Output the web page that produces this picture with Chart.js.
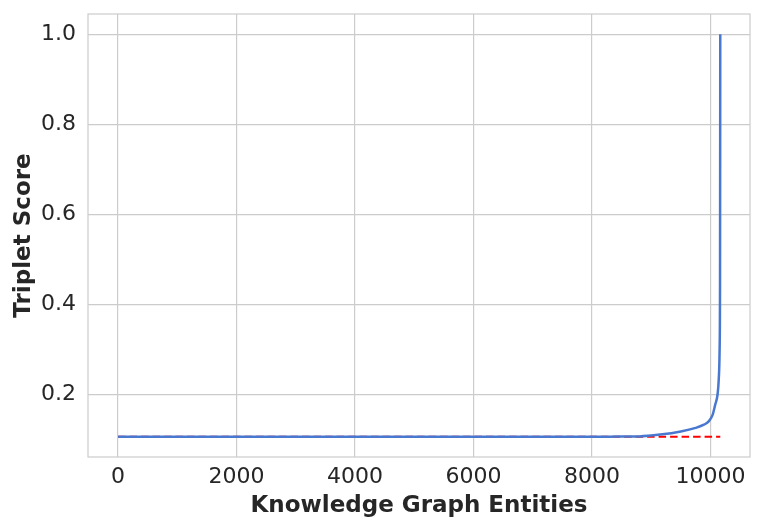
<!DOCTYPE html>
<html>
<head>
<meta charset="utf-8">
<script src="https://cdn.jsdelivr.net/npm/chart.js@4"></script>
<style>
  html, body { margin: 0; padding: 0; background: #fff; }
  #wrap { width: 782px; height: 525px; }
</style>
</head>
<body>
<div id="wrap"><canvas id="myChart" width="782" height="525"></canvas></div>
<script>
// values
const entityIdx = [0, 2000, 4000, 6000, 8000, 8300, 8800, 9150, 9500, 9750, 9890, 9975, 10040, 10080, 10120, 10140, 10155, 10162, 10166];
const tripletScore = [0.106, 0.106, 0.106, 0.106, 0.106, 0.1065, 0.107, 0.111, 0.118, 0.126, 0.133, 0.141, 0.156, 0.177, 0.200, 0.233, 0.300, 0.450, 1.0];
const cutoffX = [0, 10166];
const cutoffY = [0.106, 0.106];
const xTicks = [0, 2000, 4000, 6000, 8000, 10000];
const yTicks = [0.2, 0.4, 0.6, 0.8, 1.0];

const FONT = "'DejaVu Sans', sans-serif";
const TEXT = '#262626';
const GRID = '#cccccc';

const toPts = (xs, ys) => xs.map((x, i) => ({ x: x, y: ys[i] }));

// box around the plot area, like the seaborn whitegrid spines
const frame = {
  id: 'frame',
  afterDraw(chart) {
    const a = chart.chartArea, ctx = chart.ctx;
    ctx.save();
    ctx.strokeStyle = GRID;
    ctx.lineWidth = 1.2;
    ctx.strokeRect(a.left, a.top, a.right - a.left, a.bottom - a.top);
    ctx.restore();
  }
};

const ctx = document.getElementById('myChart').getContext('2d');
new Chart(ctx, {
  type: 'scatter',
  data: {
    datasets: [
      {
        data: toPts(cutoffX, cutoffY),
        showLine: true,
        borderColor: '#ff0000',
        borderWidth: 2,
        borderDash: [7.5, 4],
        pointRadius: 0,
        order: 2
      },
      {
        data: toPts(entityIdx, tripletScore),
        showLine: true,
        borderColor: '#4878d0',
        borderWidth: 2.5,
        cubicInterpolationMode: 'monotone',
        pointRadius: 0,
        order: 1
      }
    ]
  },
  options: {
    responsive: false,
    animation: false,
    layout: { padding: { top: 14, right: 32, left: 0, bottom: 0 } },
    plugins: { legend: { display: false }, tooltip: { enabled: false } },
    scales: {
      x: {
        type: 'linear',
        min: -508,
        max: 10668,
        afterBuildTicks: s => { s.ticks = xTicks.map(v => ({ value: v })); },
        afterFit: s => { s.height = 68; s.paddingLeft = 0; s.paddingRight = 0; },
        grid: { color: GRID, lineWidth: 1.2, drawTicks: false },
        border: { display: false },
        ticks: {
          padding: 7,
          color: TEXT,
          font: { family: FONT, size: 22 },
          maxRotation: 0,
          callback: v => String(v)
        },
        title: {
          display: true,
          text: 'Knowledge Graph Entities',
          color: TEXT,
          font: { family: FONT, size: 23, weight: 'bold' },
          padding: { top: 0, bottom: 5 }
        }
      },
      y: {
        type: 'linear',
        min: 0.0613,
        max: 1.0447,
        afterBuildTicks: s => { s.ticks = yTicks.map(v => ({ value: v })); },
        afterFit: s => { s.width = 88; s.paddingTop = 0; s.paddingBottom = 0; },
        grid: { color: GRID, lineWidth: 1.2, drawTicks: false },
        border: { display: false },
        ticks: {
          padding: 12,
          color: TEXT,
          font: { family: FONT, size: 22 },
          callback: v => v.toFixed(1)
        },
        title: {
          display: true,
          text: 'Triplet Score',
          color: TEXT,
          font: { family: FONT, size: 23, weight: 'bold' },
          padding: { top: 10, bottom: 0 }
        }
      }
    }
  },
  plugins: [frame]
});
</script>
</body>
</html>
